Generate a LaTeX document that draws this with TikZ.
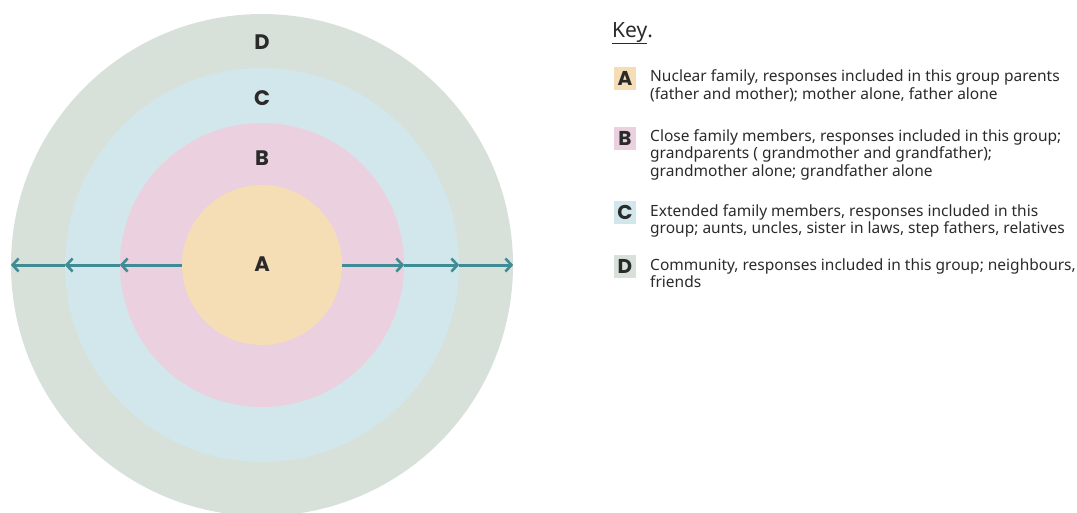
\documentclass[tikz,border=0pt]{standalone}
\usepackage{fontspec}
\setmainfont{Noto Sans}
\newfontfamily\lblfont{Poppins}
\usetikzlibrary{arrows.meta}
\definecolor{cA}{HTML}{F5DEB6}
\definecolor{cB}{HTML}{EBD0DF}
\definecolor{cC}{HTML}{D2E7EB}
\definecolor{cD}{HTML}{D7E1D9}
\definecolor{arr}{HTML}{3F8C95}
\definecolor{ink}{HTML}{2A2A2A}
\tikzset{
  ring/.style={circle, inner sep=0pt, draw=none},
  ringlabel/.style={text=ink, font=\lblfont\bfseries\fontsize{21}{21}\selectfont},
  flow/.style={draw=arr, line width=3pt, -{Straight Barb[length=6pt,width=13pt,line width=2.6pt]}},
  keybox/.style={minimum width=22pt, minimum height=23pt, inner sep=0pt, text=ink, font=\lblfont\bfseries\fontsize{20}{20}\selectfont},
  keytext/.style={anchor=base west, inner sep=0pt, align=left, text=ink, font=\fontsize{15.5}{17.5}\selectfont},
}
\begin{document}
\begin{tikzpicture}[x=1pt,y=-1pt]
\useasboundingbox (0,0) rectangle (1077,512);
\clip (0,0) rectangle (1077,512);
\coordinate (c) at (262,265);
\node[ring, fill=cD, minimum size=502pt] (D) at (c) {};
\node[ring, fill=cC, minimum size=394pt] (C) at (c) {};
\node[ring, fill=cB, minimum size=284pt] (B) at (c) {};
\node[ring, fill=cA, minimum size=160pt] (A) at (c) {};
\node[ringlabel] (lD) at (262,42) {D};
\node[ringlabel] (lC) at (262,98) {C};
\node[ringlabel] (lB) at (262,158) {B};
\node[ringlabel] (lA) at (262,264) {A};
\draw[flow] (A.west) -- (B.west);
\draw[flow] (B.west) -- (C.west);
\draw[flow] (C.west) -- (D.west);
\draw[flow] (A.east) -- (B.east);
\draw[flow] (B.east) -- (C.east);
\draw[flow] (C.east) -- (D.east);
% key
\node[anchor=base west, inner sep=0pt, text=ink, font=\fontsize{21}{21}\selectfont] (key) at (612,37) {\underline{Key}.};
\node[keybox, fill=cA] (kA) at (625,78.5) {A};
\node[keybox, fill=cB] (kB) at (625,138) {B};
\node[keybox, fill=cC] (kC) at (625,212.5) {C};
\node[keybox, fill=cD] (kD) at (625,266.5) {D};
\node[keytext] (tA) at (650,99) {Nuclear family, responses included in this group parents\\(father and mother); mother alone, father alone};
\node[keytext] (tB) at (650,176) {Close family members, responses included in this group;\\grandparents ( grandmother and grandfather);\\grandmother alone; grandfather alone};
\node[keytext] (tC) at (650,233.5) {Extended family members, responses included in this\\group; aunts, uncles, sister in laws, step fathers, relatives};
\node[keytext] (tD) at (650,287.5) {Community, responses included in this group; neighbours,\\friends};
\end{tikzpicture}
\end{document}
